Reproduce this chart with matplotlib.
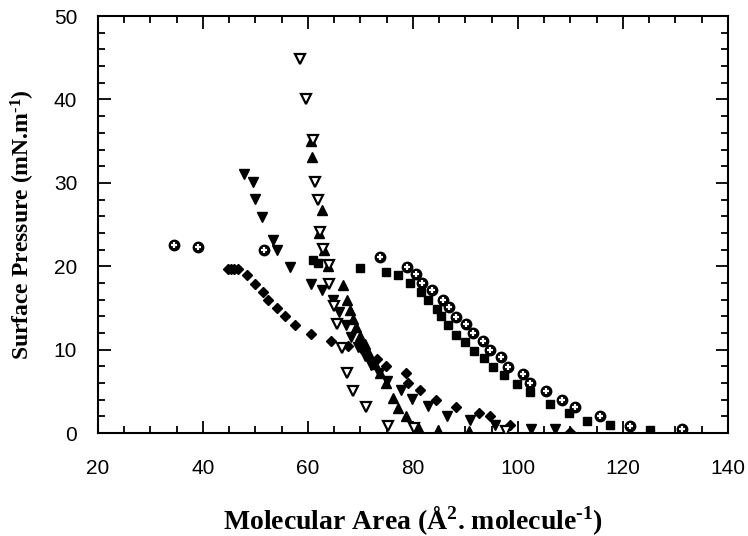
import matplotlib
matplotlib.use("Agg")
import matplotlib.pyplot as plt
from matplotlib.ticker import MultipleLocator

# Surface pressure isotherms
circ_x = [34.5, 39, 51.6, 73.8, 78.8, 80.6, 81.7, 83.7, 85.8, 86.9, 88.3, 90.1, 91.5,
          93.3, 94.7, 96.8, 98.2, 101, 102.3, 105.3, 108.4, 110.9, 115.7, 121.4, 131.2]
circ_y = [22.5, 22.3, 21.9, 21.1, 19.9, 19.1, 18.0, 17.1, 15.9, 15.1, 13.9, 13.1, 12.0,
          11.1, 9.95, 9.1, 7.95, 7.1, 5.95, 5.1, 3.96, 3.15, 2.04, 0.88, 0.44]

sq_x = [61, 62, 69.9, 74.9, 77.2, 79.5, 81.5, 82.9, 84.5, 85.3, 86.7, 88.3, 90.0, 91.7,
        93.6, 95.3, 97.4, 99.9, 102.3, 106.1, 109.8, 113.1, 117.6, 125.1]
sq_y = [20.7, 20.4, 19.8, 19.3, 19.0, 18.0, 16.9, 15.9, 14.9, 14.0, 12.95, 11.8, 10.95, 9.9,
        8.95, 7.9, 6.95, 5.9, 4.95, 3.5, 2.43, 1.5, 0.96, 0.36]

dtri_x = [47.8, 49.6, 49.9, 51.3, 53.4, 54.2, 56.6, 60.5, 62.6, 64.8, 66.0, 67.2, 68.3,
          69.5, 70.8, 72.0, 73.5, 75.0, 77.7, 79.8, 82.9, 86.5, 90.8, 95.6, 102.5, 107.0]
dtri_y = [31.1, 30.1, 28.1, 25.9, 23.1, 22.0, 19.9, 17.9, 17.2, 16.0, 14.5, 13.0, 11.5,
          10.3, 9.2, 8.2, 7.2, 6.2, 5.2, 4.1, 3.2, 2.0, 1.6, 1.0, 0.5, 0.5]

otri_x = [58.5, 59.7, 61, 61.3, 62, 62.3, 62.9, 64.0, 64.0, 65.0, 65.5, 66.4, 67.5, 68.5,
          71.0, 75.3, 80.2, 97.8]
otri_y = [44.8, 40, 35.2, 30.1, 28.0, 24.1, 22.1, 20.1, 17.9, 15.2, 13.1, 10.2, 7.2, 5.1,
          3.1, 0.84, 0.56, 0.28]

utri_x = [60.5, 60.7, 62.6, 62.2, 63.0, 63.9, 66.7, 67.4, 68.0, 68.6, 69.1, 69.9, 70.9,
          71.7, 72.8, 73.7, 74.8, 76.2, 77.2, 78.7, 80.9, 84.8, 90.7]
utri_y = [35.0, 33.1, 26.8, 24.0, 22.0, 20.0, 17.7, 15.9, 14.7, 13.7, 12.7, 11.7, 10.7,
          9.5, 8.3, 7.2, 6.0, 4.2, 3.0, 2.0, 0.76, 0.4, 0.3]

dia_x = [44.8, 45.4, 46.0, 46.6, 48.4, 49.9, 51.4, 52.4, 54.2, 55.6, 57.6, 60.6, 64.4,
         67.7, 70.4, 73.1, 74.9, 78.7, 79.1, 81.3, 84.4, 88.3, 92.5, 94.7, 98.5, 109.9]
dia_y = [19.7, 19.7, 19.7, 19.7, 18.9, 17.9, 16.9, 15.9, 15.0, 14.0, 13.0, 11.9, 11.1,
         10.4, 10.0, 8.9, 8.0, 7.2, 6.0, 5.2, 4.0, 3.1, 2.4, 2.0, 0.96, 0.16]

plt.rcParams['mathtext.fontset'] = 'custom'
plt.rcParams['mathtext.rm'] = 'Liberation Serif:bold'
plt.rcParams['mathtext.bf'] = 'Liberation Serif:bold'
plt.rcParams['mathtext.default'] = 'bf'

fig = plt.figure(figsize=(7.48, 5.36), dpi=100)
ax = fig.add_axes([0.131, 0.192, 0.842, 0.778])

# open circles with a cross: black disc + white plus on top
ax.plot(circ_x, circ_y, 'o', color='black', ms=7.5, ls='none', zorder=3)
ax.plot(circ_x, circ_y, '+', color='white', ms=4.5, mew=1.6, ls='none', zorder=4)
ax.plot(sq_x, sq_y, 's', color='black', ms=6, ls='none', zorder=3)
ax.plot(dtri_x, dtri_y, 'v', color='black', ms=7.5, ls='none', zorder=3)
ax.plot(utri_x, utri_y, '^', color='black', ms=7.5, ls='none', zorder=3)
ax.plot(otri_x, otri_y, 'v', mfc='white', mec='black', mew=1.6, ms=7, ls='none', zorder=5)
ax.plot(dia_x, dia_y, 'D', color='black', ms=5.5, ls='none', zorder=3)

ax.set_xlim(20, 140)
ax.set_ylim(0, 50)
ax.xaxis.set_major_locator(MultipleLocator(20))
ax.xaxis.set_minor_locator(MultipleLocator(5))
ax.yaxis.set_major_locator(MultipleLocator(10))
ax.yaxis.set_minor_locator(MultipleLocator(2))
ax.tick_params(which='both', direction='in', top=True, right=True, width=1.3,
               labelsize=15, labelfontfamily='Liberation Sans')
ax.tick_params(which='major', length=9)
ax.tick_params(which='minor', length=5)
ax.tick_params(axis='x', pad=19)
ax.tick_params(axis='y', pad=15)
for sp in ax.spines.values():
    sp.set_linewidth(1.5)

ax.set_xlabel(r'Molecular Area (Å$^{2}$. molecule$^{\text{-1}}$)', family='Liberation Serif',
              weight='bold', fontsize=20, labelpad=18)
ax.set_ylabel(r'Surface Pressure (mN.m$^{\text{-1}}$)', family='Liberation Serif',
              weight='bold', fontsize=17, labelpad=12)

fig.savefig('out.png', dpi=100)
